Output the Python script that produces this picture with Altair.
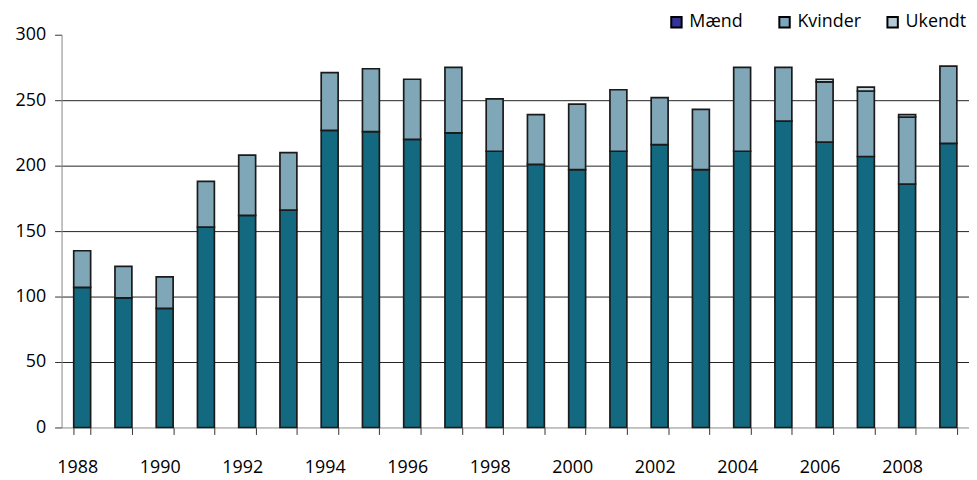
import altair as alt
import pandas as pd

years = [str(y) for y in range(1988, 2010)]
maend = [107, 99, 91, 153, 162, 166, 227, 226, 220, 225, 211,
         201, 197, 211, 216, 197, 211, 234, 218, 207, 186, 217]
kvinder = [28, 24, 24, 35, 46, 44, 44, 48, 46, 50, 40,
           38, 50, 47, 36, 46, 64, 41, 46, 50, 51, 59]
ukendt = [0, 0, 0, 0, 0, 0, 0, 0, 0, 0, 0,
          0, 0, 0, 0, 0, 0, 0, 2, 3, 2, 0]

series = ["Mænd", "Kvinder", "Ukendt"]
bar_colors = ["#136a80", "#80a7b8", "#c2d5de"]
legend_colors = ["#333399", "#7ba6bd", "#b3c9d6"]
y_ticks = [0, 50, 100, 150, 200, 250, 300]

rows = []
for i, yr in enumerate(years):
    for k, (name, vals) in enumerate(zip(series, [maend, kvinder, ukendt])):
        if vals[i] > 0:
            rows.append({"year": yr, "series": name, "value": vals[i], "order": k})
df = pd.DataFrame(rows)
legend_df = pd.DataFrame({"series": series})

FONT = "Open Sans"

bars = alt.Chart(df).mark_bar(stroke="#1a1a1a", strokeWidth=1.7).encode(
    x=alt.X("year:N", sort=years, title=None,
            scale=alt.Scale(paddingInner=0.59, paddingOuter=0.295),
            axis=alt.Axis(
                labelExpr="toNumber(datum.value) % 2 == 0 ? datum.value : ''",
                labelAngle=0, labelOverlap=False, tickBand="extent",
                tickSize=7, tickColor="#333333", domainColor="#888888",
                labelFont=FONT, labelFontSize=18, labelColor="black",
                labelPadding=24, labelOffset=-5, grid=False)),
    y=alt.Y("value:Q", stack="zero", title=None,
            scale=alt.Scale(domain=[0, 300], nice=False),
            axis=alt.Axis(
                values=y_ticks, tickSize=7, tickColor="#333333",
                domainColor="#888888", labelFont=FONT, labelFontSize=18,
                labelColor="black", labelPadding=9, grid=True,
                gridColor="#222222", gridWidth=1,
                gridOpacity={"condition": {"test": "datum.value === 300 || datum.value === 0", "value": 0}, "value": 1})),
    color=alt.Color("series:N", scale=alt.Scale(domain=series, range=bar_colors), legend=None),
    order=alt.Order("order:Q"),
)

legend_layer = alt.Chart(legend_df).mark_square(clip=True, opacity=1, stroke="black", strokeWidth=2, size=110).encode(
    x=alt.value(-60),
    y=alt.value(-60),
    color=alt.Color("series:N", sort=series,
                    scale=alt.Scale(domain=series, range=legend_colors),
                    legend=alt.Legend(
                        title=None, orient="none", direction="horizontal",
                        legendX=611, legendY=-22, padding=0,
                        gridAlign="all", columnPadding=21,
                        symbolType="square", symbolSize=110,
                        symbolStrokeColor="black", symbolStrokeWidth=2,
                        symbolOpacity=1,
                        labelFont=FONT, labelFontSize=18, labelColor="black",
                        labelOffset=4)),
)

chart = alt.layer(bars, legend_layer).resolve_scale(color="independent").properties(
    width=915, height=396,
    autosize=alt.AutoSizeParams(type="none"),
    padding={"left": 54, "top": 25, "right": 0, "bottom": 50},
).configure_view(stroke=None)

chart.save("out.html", embed_options={"renderer": "svg", "actions": False})
